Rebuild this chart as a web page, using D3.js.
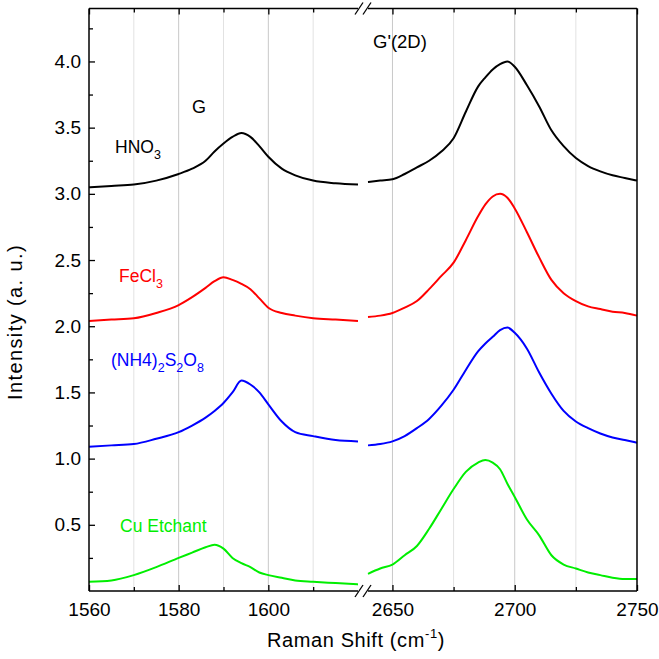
<!DOCTYPE html>
<html>
<head>
<meta charset="utf-8">
<script src="https://cdn.jsdelivr.net/npm/d3@7"></script>
<style>
  html, body { margin: 0; padding: 0; background: #fff; }
  svg text { font-family: "Liberation Sans", Arial, sans-serif; }
</style>
</head>
<body>
<svg id="chart" width="659" height="659"></svg>
<script>
// ---------- data ----------
const gShift = [1560,1565,1570,1575,1580,1583,1586,1588,1590,1592,1594,1596,1598,1600,1603,1606,1610,1615,1620];
const g2dShift = [2640,2645,2650,2655,2660,2665,2670,2675,2680,2685,2688,2691,2694,2697,2700,2705,2710,2715,2720,2725,2730,2735,2740,2745,2750];

const hno3G   = [3.05,3.06,3.07,3.10,3.15,3.19,3.25,3.32,3.38,3.43,3.46,3.43,3.36,3.28,3.19,3.14,3.10,3.08,3.07];
const fecl3G  = [2.04,2.05,2.06,2.10,2.16,2.22,2.29,2.34,2.37,2.35,2.32,2.28,2.21,2.14,2.10,2.08,2.06,2.05,2.04];
const apsG    = [1.09,1.10,1.11,1.15,1.20,1.25,1.31,1.36,1.42,1.50,1.59,1.56,1.50,1.41,1.28,1.20,1.17,1.14,1.13];
const cuG     = [0.07,0.08,0.12,0.18,0.25,0.29,0.33,0.35,0.32,0.25,0.21,0.18,0.14,0.12,0.10,0.08,0.07,0.06,0.05];

const hno3_2D  = [3.09,3.10,3.11,3.15,3.20,3.25,3.32,3.42,3.62,3.81,3.88,3.94,3.98,4.00,3.96,3.82,3.66,3.48,3.36,3.27,3.21,3.17,3.14,3.12,3.10];
const fecl3_2D = [2.07,2.08,2.10,2.14,2.19,2.28,2.38,2.48,2.65,2.83,2.92,2.98,3.00,2.97,2.89,2.71,2.52,2.35,2.25,2.19,2.15,2.13,2.11,2.10,2.08];
const aps_2D   = [1.10,1.11,1.13,1.17,1.23,1.30,1.40,1.52,1.67,1.81,1.87,1.92,1.97,1.99,1.95,1.83,1.65,1.49,1.36,1.28,1.23,1.19,1.16,1.14,1.12];
const cu_2D    = [0.13,0.17,0.20,0.27,0.34,0.47,0.62,0.77,0.90,0.97,0.99,0.97,0.92,0.81,0.71,0.54,0.42,0.27,0.20,0.17,0.14,0.12,0.10,0.09,0.09];

const seriesNames  = ["HNO3", "FeCl3", "(NH4)2S2O8", "Cu Etchant"];
const seriesColors = ["#000000", "#ff0000", "#0000ff", "#00ee00"];
const gValues   = [hno3G, fecl3G, apsG, cuG];
const g2dValues = [hno3_2D, fecl3_2D, aps_2D, cu_2D];

const leftMajor = [1560, 1580, 1600];
const leftMinor = [1570, 1590, 1610];
const rightMajor = [2650, 2700, 2750];
const rightMinor = [2675, 2725];
const yMajor = [0.5, 1.0, 1.5, 2.0, 2.5, 3.0, 3.5, 4.0];
const yMinor = [0.25, 0.75, 1.25, 1.75, 2.25, 2.75, 3.25, 3.75, 4.25];

// ---------- layout ----------
const L = 89, R = 637, T = 8.5, B = 591;
const breakL = 358, breakR = 368;
const svg = d3.select("#chart");

const xL = d3.scaleLinear().domain([1560, 1620]).range([L, breakL]);
const xR = d3.scaleLinear().domain([2640, 2750]).range([breakR, R]);
const y  = d3.scaleLinear().domain([0, 4.4]).range([B, T]);

// grid lines
const grid = svg.append("g");
function gridLines(scale, vals, color) {
  grid.selectAll(null).data(vals).enter().append("line")
    .attr("x1", d => scale(d)).attr("x2", d => scale(d))
    .attr("y1", T).attr("y2", B)
    .attr("stroke", color).attr("stroke-width", 1);
}
gridLines(xL, [1580, 1600], "#c8c8c8");
gridLines(xL, leftMinor, "#e2e2e2");
gridLines(xR, [2650, 2700], "#c8c8c8");
gridLines(xR, rightMinor, "#e2e2e2");

// lines
const lineL = d3.line().x((d, i) => xL(gShift[i])).y(d => y(d)).curve(d3.curveMonotoneX);
const lineR = d3.line().x((d, i) => xR(g2dShift[i])).y(d => y(d)).curve(d3.curveMonotoneX);
const plot = svg.append("g");
gValues.forEach((vals, k) => {
  plot.append("path").attr("d", lineL(vals)).attr("fill", "none")
    .attr("stroke", seriesColors[k]).attr("stroke-width", 2);
});
g2dValues.forEach((vals, k) => {
  plot.append("path").attr("d", lineR(vals)).attr("fill", "none")
    .attr("stroke", seriesColors[k]).attr("stroke-width", 2);
});

// axes
function styleAxis(g) {
  g.select(".domain").remove();
  g.selectAll("line").attr("stroke", "#000").attr("stroke-width", 1.3);
  g.selectAll("text").attr("font-size", 19).attr("fill", "#000")
    .attr("font-family", "Liberation Sans, Arial, sans-serif");
}
// bottom
svg.append("g").attr("transform", `translate(0,${B})`)
  .call(d3.axisBottom(xL).tickValues(leftMajor).tickFormat(d3.format("d")).tickSizeInner(-6).tickSizeOuter(0).tickPadding(12))
  .call(styleAxis);
svg.append("g").attr("transform", `translate(0,${B})`)
  .call(d3.axisBottom(xL).tickValues(leftMinor).tickFormat("").tickSizeInner(-4).tickSizeOuter(0))
  .call(styleAxis);
svg.append("g").attr("transform", `translate(0,${B})`)
  .call(d3.axisBottom(xR).tickValues(rightMajor).tickFormat(d3.format("d")).tickSizeInner(-6).tickSizeOuter(0).tickPadding(12))
  .call(styleAxis);
svg.append("g").attr("transform", `translate(0,${B})`)
  .call(d3.axisBottom(xR).tickValues(rightMinor).tickFormat("").tickSizeInner(-4).tickSizeOuter(0))
  .call(styleAxis);
// top
svg.append("g").attr("transform", `translate(0,${T})`)
  .call(d3.axisTop(xL).tickValues(leftMajor).tickFormat("").tickSizeInner(-6).tickSizeOuter(0)).call(styleAxis);
svg.append("g").attr("transform", `translate(0,${T})`)
  .call(d3.axisTop(xL).tickValues(leftMinor).tickFormat("").tickSizeInner(-4).tickSizeOuter(0)).call(styleAxis);
svg.append("g").attr("transform", `translate(0,${T})`)
  .call(d3.axisTop(xR).tickValues(rightMajor).tickFormat("").tickSizeInner(-6).tickSizeOuter(0)).call(styleAxis);
svg.append("g").attr("transform", `translate(0,${T})`)
  .call(d3.axisTop(xR).tickValues(rightMinor).tickFormat("").tickSizeInner(-4).tickSizeOuter(0)).call(styleAxis);
// left
svg.append("g").attr("transform", `translate(${L},0)`)
  .call(d3.axisLeft(y).tickValues(yMajor).tickFormat(d3.format(".1f")).tickSizeInner(-6).tickSizeOuter(0).tickPadding(8))
  .call(styleAxis);
svg.append("g").attr("transform", `translate(${L},0)`)
  .call(d3.axisLeft(y).tickValues(yMinor).tickFormat("").tickSizeInner(-4).tickSizeOuter(0))
  .call(styleAxis);

// frame
const frame = svg.append("g").attr("stroke", "#000").attr("stroke-width", 1.5).attr("fill", "none");
frame.append("line").attr("x1", L).attr("x2", L).attr("y1", T).attr("y2", B);
frame.append("line").attr("x1", R).attr("x2", R).attr("y1", T).attr("y2", B);
[T, B].forEach(yy => {
  frame.append("line").attr("x1", L).attr("x2", breakL).attr("y1", yy).attr("y2", yy);
  frame.append("line").attr("x1", breakR).attr("x2", R).attr("y1", yy).attr("y2", yy);
  [breakL + 1, breakR - 1].forEach(xx => {
    frame.append("line").attr("x1", xx - 4).attr("y1", yy + 6).attr("x2", xx + 4).attr("y2", yy - 6)
      .attr("stroke-width", 1.3);
  });
});

// axis titles
const xt = svg.append("text").attr("x", 356).attr("y", 647).attr("text-anchor", "middle")
  .attr("font-size", 20).attr("letter-spacing", 0.6).attr("fill", "#000");
xt.append("tspan").text("Raman Shift (cm");
xt.append("tspan").attr("font-size", 13).attr("dy", -9).text("-1");
xt.append("tspan").attr("dy", 9).text(")");

svg.append("text").attr("transform", "translate(22,322) rotate(-90)")
  .attr("text-anchor", "middle").attr("font-size", 20).attr("letter-spacing", 1.4).attr("fill", "#000")
  .text("Intensity (a. u.)");

// peak labels
svg.append("text").attr("x", 192).attr("y", 113).attr("font-size", 18).attr("fill", "#000").text("G");
svg.append("text").attr("x", 373).attr("y", 48).attr("font-size", 18.5).attr("fill", "#000").text("G'(2D)");

// series labels with subscripts
function subLabel(x, yy, parts, color) {
  const t = svg.append("text").attr("x", x).attr("y", yy).attr("font-size", 17.5).attr("fill", color);
  let shifted = false;
  parts.forEach(p => {
    const s = t.append("tspan").text(p[0]);
    if (p[1] && !shifted) { s.attr("dy", 6).attr("font-size", 12.5); shifted = true; }
    else if (!p[1] && shifted) { s.attr("dy", -6); shifted = false; }
    else if (p[1]) { s.attr("font-size", 12.5); }
  });
}
subLabel(115, 153, [["HNO", false], ["3", true]], seriesColors[0]);
subLabel(119, 282, [["FeCl", false], ["3", true]], seriesColors[1]);
subLabel(111, 366, [["(NH4)", false], ["2", true], ["S", false], ["2", true], ["O", false], ["8", true]], seriesColors[2]);
subLabel(120, 532, [["Cu Etchant", false]], seriesColors[3]);
</script>
</body>
</html>
